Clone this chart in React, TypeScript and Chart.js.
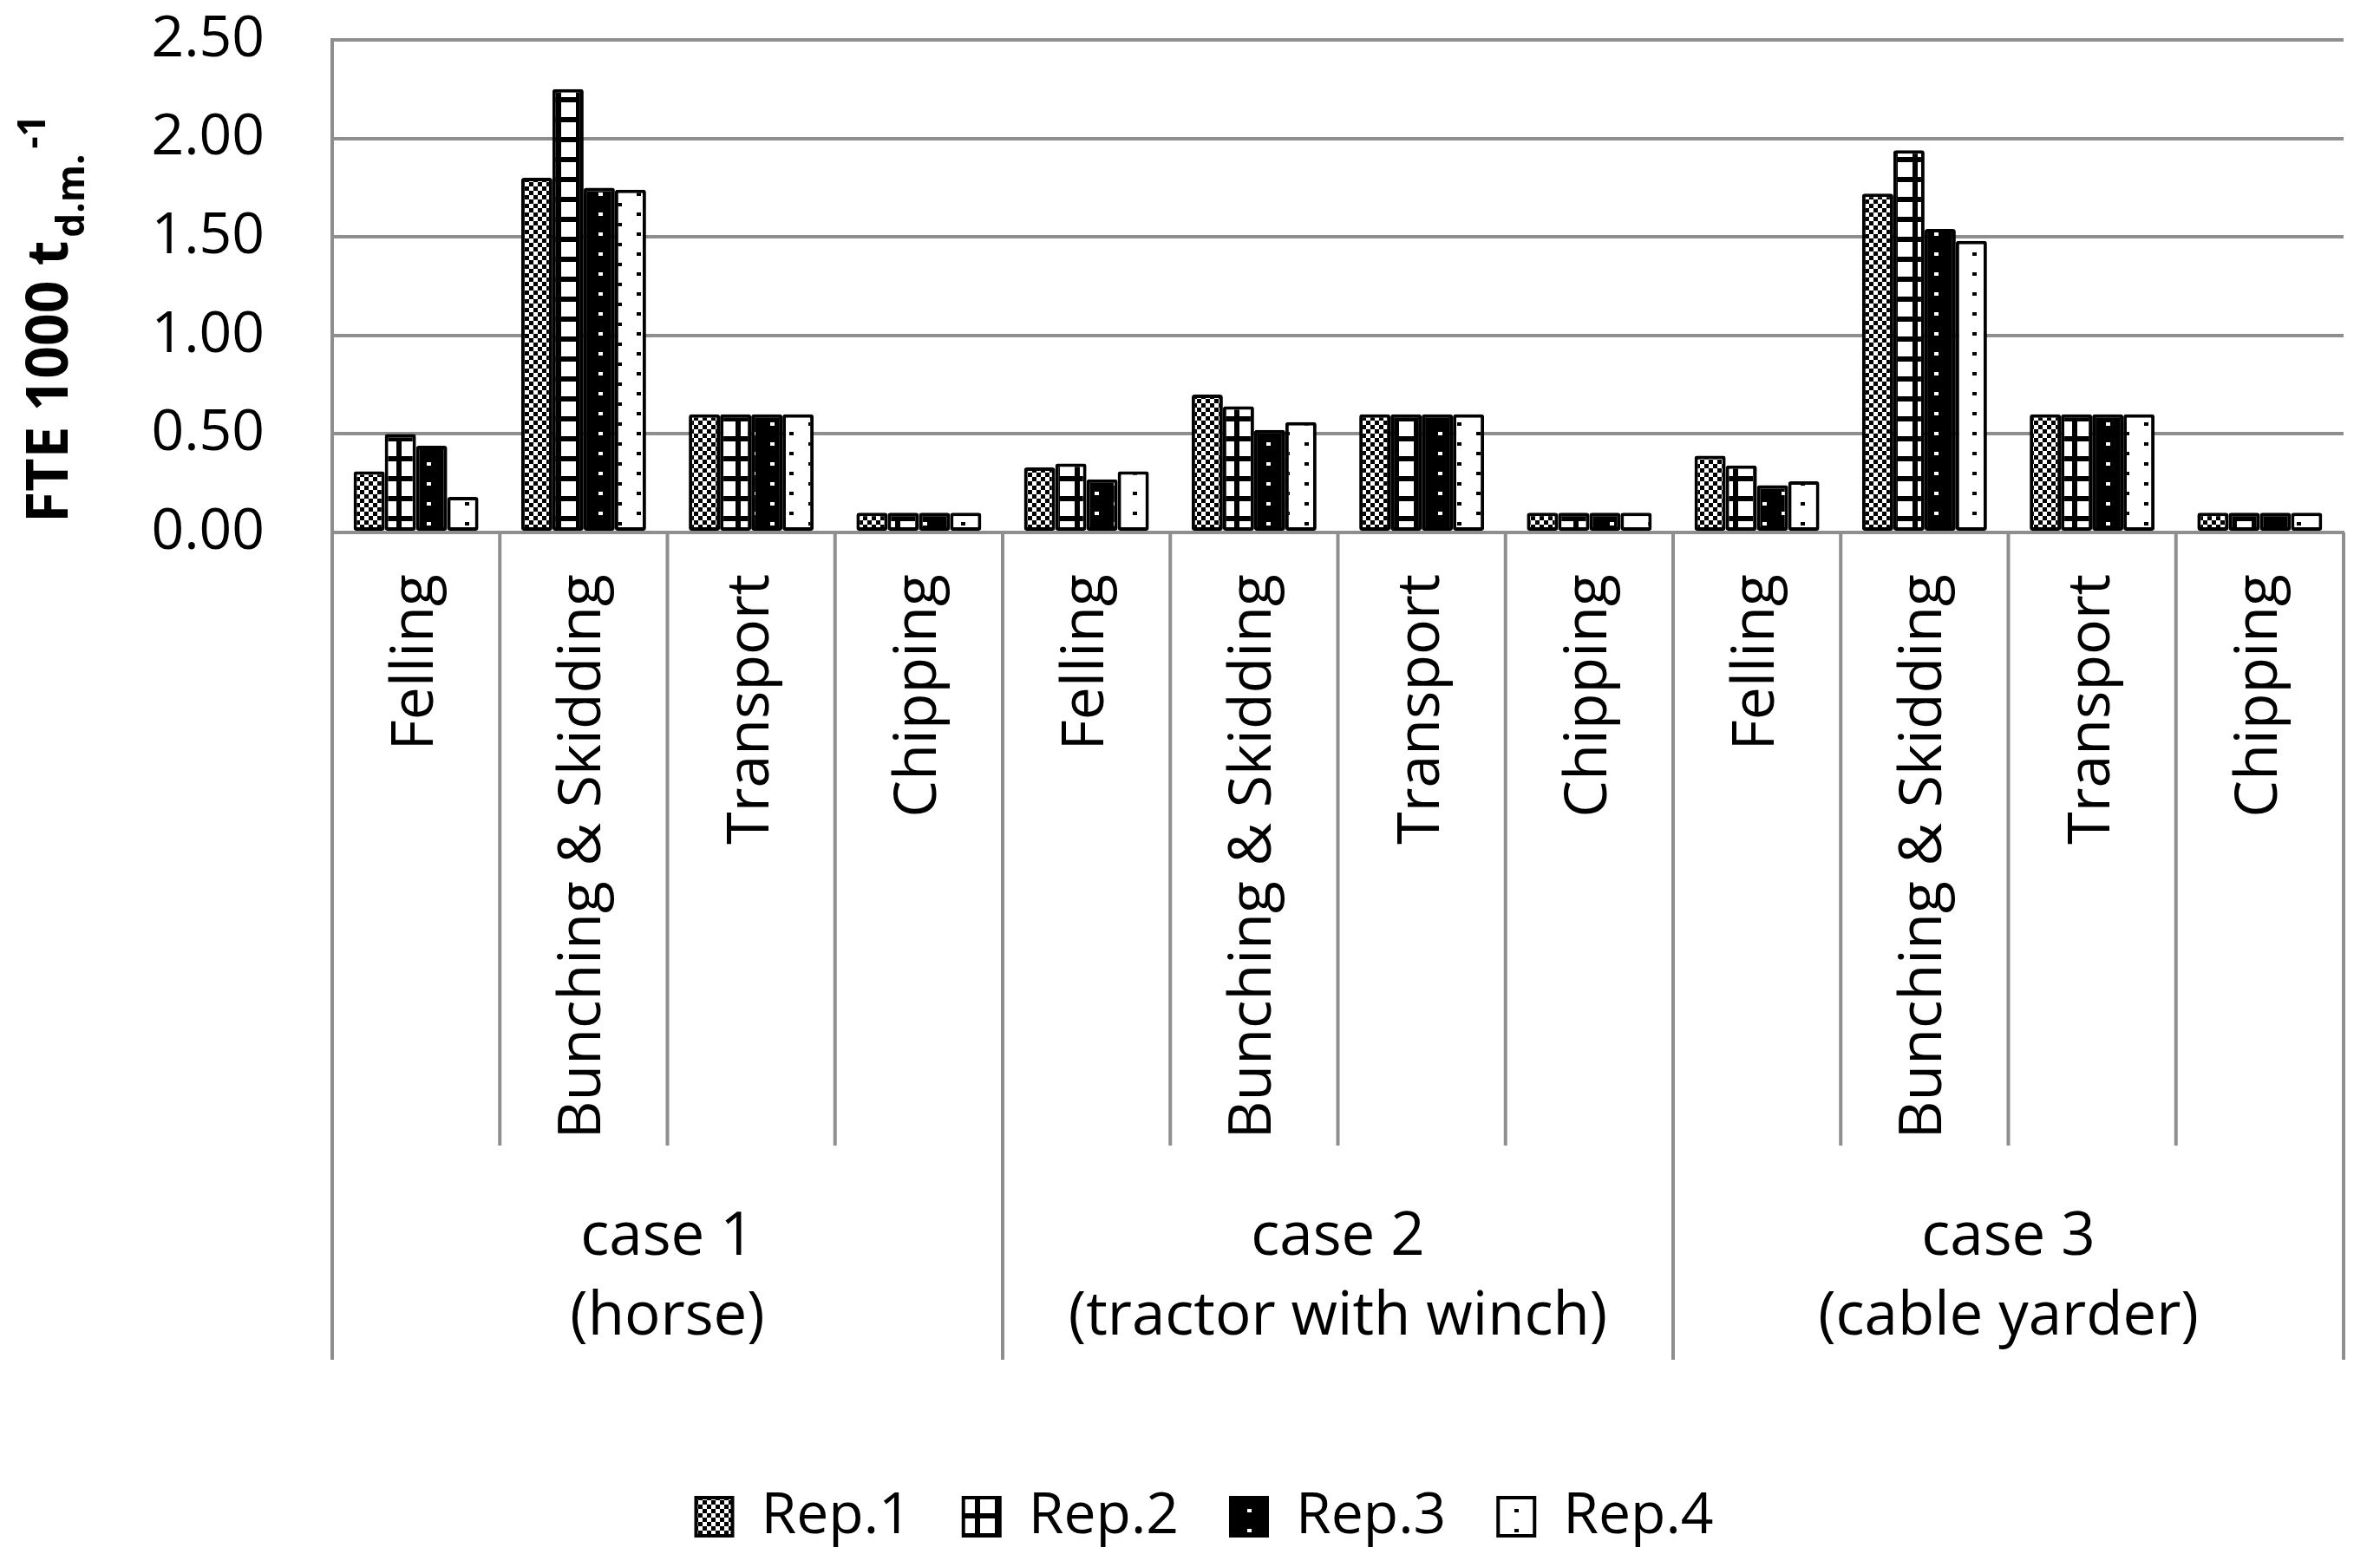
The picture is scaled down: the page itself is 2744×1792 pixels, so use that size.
import React, { useEffect, useRef } from 'react';
import { Chart, registerables } from 'chart.js';

Chart.register(...registerables);

// ---- data ----
const subCategories = [
  'Felling', 'Bunching & Skidding', 'Transport', 'Chipping',
  'Felling', 'Bunching & Skidding', 'Transport', 'Chipping',
  'Felling', 'Bunching & Skidding', 'Transport', 'Chipping',
];
const groupLine1 = ['case 1', 'case 2', 'case 3'];
const groupLine2 = ['(horse)', '(tractor with winch)', '(cable yarder)'];
const seriesNames = ['Rep.1', 'Rep.2', 'Rep.3', 'Rep.4'];
const rep1 = [0.31, 1.80, 0.60, 0.10, 0.33, 0.70, 0.60, 0.10, 0.39, 1.72, 0.60, 0.10];
const rep2 = [0.50, 2.25, 0.60, 0.10, 0.35, 0.64, 0.60, 0.10, 0.34, 1.94, 0.60, 0.10];
const rep3 = [0.44, 1.75, 0.60, 0.10, 0.27, 0.52, 0.60, 0.10, 0.24, 1.54, 0.60, 0.10];
const rep4 = [0.18, 1.74, 0.60, 0.10, 0.31, 0.56, 0.60, 0.10, 0.26, 1.48, 0.60, 0.10];
const yTickLabels = ['0.00', '0.50', '1.00', '1.50', '2.00', '2.50'];
const yTitleMain = 'FTE 1000 t';
const yTitleSub = 'd.m.';
const yTitleSup = '-1';

const GRAY = '#8e8e8e';
const FONT = '"Open Sans", "Noto Sans", sans-serif';

function makePattern(kind: number): CanvasPattern | string {
  const c = document.createElement('canvas');
  if (kind === 0) {
    c.width = 10; c.height = 10;
  } else if (kind === 1) {
    c.width = 23; c.height = 23;
  } else {
    c.width = 44; c.height = 23;
  }
  const g = c.getContext('2d');
  if (!g) return '#000';
  if (kind === 0) {
    g.fillStyle = '#fff'; g.fillRect(0, 0, 10, 10);
    g.fillStyle = '#000'; g.fillRect(0, 0, 5, 5); g.fillRect(5, 5, 5, 5);
  } else if (kind === 1) {
    g.fillStyle = '#000'; g.fillRect(0, 0, 23, 23);
    g.fillStyle = '#fff'; g.fillRect(3, 3, 17, 17);
  } else if (kind === 2) {
    g.fillStyle = '#000'; g.fillRect(0, 0, 44, 23);
    g.fillStyle = '#fff'; g.fillRect(8, 4, 5, 4); g.fillRect(30, 15, 5, 4);
  } else {
    g.fillStyle = '#fff'; g.fillRect(0, 0, 44, 23);
    g.fillStyle = '#000'; g.fillRect(8, 4, 5, 4); g.fillRect(30, 15, 5, 4);
  }
  const p = g.createPattern(c, 'repeat');
  return p || '#000';
}

const decorPlugin = {
  id: 'decor',
  afterDraw(chart: any) {
    const ctx = chart.ctx as CanvasRenderingContext2D;
    const xs = chart.scales.x;
    const ys = chart.scales.y;
    const base = ys.getPixelForValue(0);
    const n = subCategories.length;
    const perGroup = n / groupLine1.length;
    const bounds: number[] = [];
    for (let i = 0; i <= n; i++) {
      let x: number;
      if (i === 0) x = xs.left;
      else if (i === n) x = xs.right;
      else x = (xs.getPixelForValue(i - 1) + xs.getPixelForValue(i)) / 2;
      bounds.push(x);
    }
    const innerEnd = xs.top + 707;
    const outerEnd = xs.top + 954;
    ctx.save();
    ctx.strokeStyle = GRAY;
    ctx.lineWidth = 4;
    bounds.forEach((x, i) => {
      ctx.beginPath();
      ctx.moveTo(x, base);
      ctx.lineTo(x, i % perGroup === 0 ? outerEnd : innerEnd);
      ctx.stroke();
    });
    ctx.fillStyle = '#000';
    ctx.font = `69px ${FONT}`;
    ctx.textAlign = 'center';
    ctx.textBaseline = 'middle';
    for (let gi = 0; gi < groupLine1.length; gi++) {
      const cx = (bounds[gi * perGroup] + bounds[(gi + 1) * perGroup]) / 2;
      ctx.fillText(groupLine1[gi], cx, xs.top + 813);
      ctx.fillText(groupLine2[gi], cx, xs.top + 905);
    }
    // y axis title with subscript / superscript
    ctx.translate(78, 603);
    ctx.rotate(-Math.PI / 2);
    ctx.textAlign = 'left';
    ctx.textBaseline = 'alphabetic';
    ctx.font = `bold 66px ${FONT}`;
    ctx.fillText(yTitleMain, 0, 0);
    let adv = ctx.measureText(yTitleMain).width;
    ctx.font = `bold 44px ${FONT}`;
    ctx.fillText(yTitleSub, adv + 4, 19);
    adv += 4 + ctx.measureText(yTitleSub).width;
    ctx.fillText(yTitleSup, adv + 6, -26);
    ctx.restore();
  },
};

export default function App() {
  const ref = useRef<HTMLCanvasElement | null>(null);
  useEffect(() => {
    if (!ref.current) return;
    const patterns = [0, 1, 2, 3].map((k) => makePattern(k));
    const series = [rep1, rep2, rep3, rep4];
    const chart = new Chart(ref.current, {
      type: 'bar',
      data: {
        labels: subCategories,
        datasets: series.map((d, i) => ({
          label: seriesNames[i],
          data: d,
          backgroundColor: patterns[i] as any,
          borderColor: '#000',
          borderWidth: 4,
          borderSkipped: false,
          borderRadius: 3,
          barPercentage: 1,
          categoryPercentage: 0.745,
        })),
      },
      options: {
        animation: false,
        responsive: false,
        maintainAspectRatio: false,
        layout: { padding: { top: 46, right: 42, left: 76, bottom: 0 } },
        plugins: {
          legend: {
            position: 'bottom',
            labels: {
              font: { family: FONT, size: 66 },
              color: '#000',
              boxWidth: 42,
              boxHeight: 44,
              padding: 60,
            },
          },
          tooltip: { enabled: false },
        },
        scales: {
          x: {
            grid: { display: false, drawTicks: false },
            border: { display: true, color: GRAY, width: 4 },
            ticks: {
              autoSkip: false,
              minRotation: 90,
              maxRotation: 90,
              padding: 48,
              color: '#000',
              font: { family: FONT, size: 68, lineHeight: 0.35 },
            },
            afterFit(scale: any) { scale.height = 1042; },
          },
          y: {
            min: 0,
            max: 2.5,
            grid: { color: GRAY, lineWidth: 4, drawTicks: false },
            border: { display: true, color: GRAY, width: 4 },
            ticks: {
              stepSize: 0.5,
              padding: 78,
              color: '#000',
              font: { family: FONT, size: 66 },
              callback: (_v: any, idx: number) => yTickLabels[idx],
            },
            afterFit(scale: any) {
              scale.width = 307;
              scale.paddingTop = 40;
              scale.paddingBottom = 40;
            },
          },
        },
      } as any,
      plugins: [decorPlugin],
    });
    return () => chart.destroy();
  }, []);
  return (
    <div style={{ position: 'fixed', left: 0, top: 0, width: 2744, height: 1792, background: '#fff' }}>
      <canvas ref={ref} width={2744} height={1792} style={{ width: 2744, height: 1792, display: 'block' }} />
    </div>
  );
}
